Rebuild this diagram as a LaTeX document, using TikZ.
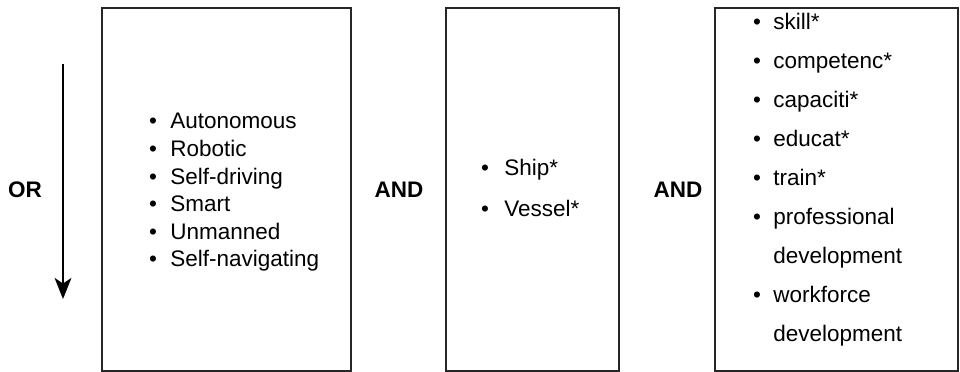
\documentclass[tikz,border=0pt]{standalone}
\usepackage{fontspec}
\setmainfont{Liberation Sans}
\usetikzlibrary{arrows.meta}

\begin{document}
\begin{tikzpicture}[
  x=0.025cm, y=-0.025cm,
  box/.style={draw=black!85, line width=1.3pt},
  term/.style={anchor=base west, inner sep=0pt, font=\fontsize{16}{19}\selectfont},
  dot/.style={anchor=base, inner sep=0pt, font=\fontsize{16}{19}\selectfont},
  op/.style={inner sep=0pt, font=\bfseries\fontsize{16}{19}\selectfont},
  flow/.style={line width=1.1pt, -{Stealth[length=15pt, width=12pt, inset=4pt]}}
]
\useasboundingbox (0,0) rectangle (960,372);

% The three search blocks
\draw[box] (102,8) rectangle (351,371);
\draw[box] (446,8) rectangle (619,371);
\draw[box] (715,8) rectangle (958,371);

% OR direction arrow
\coordinate (ortop) at (63,64);
\coordinate (orbot) at (63,299);
\draw[flow] (ortop) -- (orbot);

% Operators
\node[op] (or) at (25,190) {OR};
\node[op] (and1) at (399,190) {AND};
\node[op] (and2) at (678,190) {AND};

% Block 1: vehicle terms
\foreach \t [count=\i from 0] in {Autonomous, Robotic, Self-driving, Smart, Unmanned, Self-navigating} {
  \node[dot] (dota\i) at (153, 129+27.6*\i) {\textbullet};
  \node[term] (terma\i) at (170, 129+27.6*\i) {\t};
}

% Block 2: ship terms
\foreach \t [count=\i from 0] in {Ship*, Vessel*} {
  \node[dot] (dotb\i) at (485, 176+41*\i) {\textbullet};
  \node[term] (termb\i) at (504, 176+41*\i) {\t};
}

% Block 3: skill terms (0 = wrapped line, no bullet)
\foreach \b/\t [count=\i from 0] in {1/skill*, 1/competenc*, 1/capaciti*, 1/educat*, 1/train*, 1/professional, 0/development, 1/workforce, 0/development} {
  \ifnum\b=1
    \node[dot] (dotc\i) at (757, 30+39*\i) {\textbullet};
  \fi
  \node[term] (termc\i) at (773, 30+39*\i) {\t};
}
\end{tikzpicture}
\end{document}
